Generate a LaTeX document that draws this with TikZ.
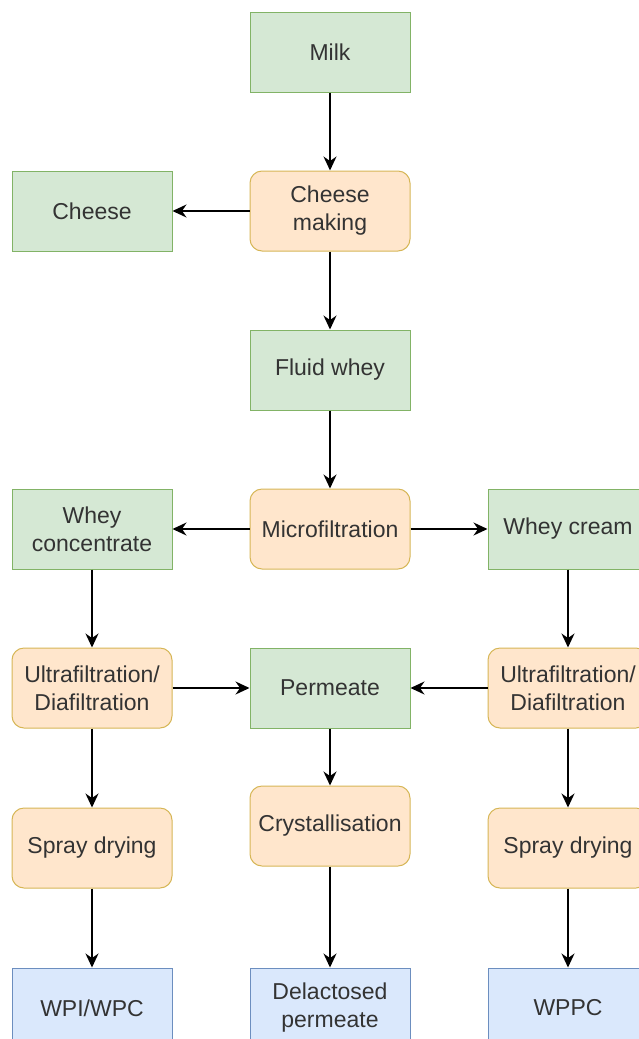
\documentclass[tikz,border=0pt]{standalone}
\usepackage{fontspec}
\setmainfont{Liberation Sans}
\usetikzlibrary{arrows.meta}
\definecolor{grnfill}{HTML}{D5E8D4}
\definecolor{grndraw}{HTML}{82B366}
\definecolor{orgfill}{HTML}{FFE6CC}
\definecolor{orgdraw}{HTML}{D6B656}
\definecolor{blufill}{HTML}{DAE8FC}
\definecolor{bludraw}{HTML}{6C8EBF}
\tikzset{
  boxnode/.style = {align=center, inner sep=0pt, text centered,
    minimum width=160pt, minimum height=80pt, line width=1pt,
    text=black!80, font=\fontsize{23}{28}\selectfont},
  grn_n/.style = {boxnode, rectangle, draw=grndraw, fill=grnfill},
  org_n/.style = {boxnode, rectangle, rounded corners=12pt, draw=orgdraw,
    fill=orgfill},
  blu_n/.style = {boxnode, rectangle, draw=bludraw, fill=blufill}}

\begin{document}
\begin{tikzpicture}[x=1pt,y=-1pt,->,>={Stealth[length=14pt,width=13pt]},
  line width=1.6pt]
\useasboundingbox (0,0) rectangle (638,1039);

% centre column
\node [grn_n] (milk)  at (330,52)  {Milk};
\node [org_n] (cmake) at (330,211) {Cheese\\making};
\node [grn_n] (cheese) at (92,211) {Cheese};
\node [grn_n] (fwhey) at (330,370) {Fluid whey};
\node [org_n] (micro) at (330,529) {Microfiltration};
\node [grn_n] (perm)  at (330,688) {Permeate};
\node [org_n] (cryst) at (330,826) {Crystallisation};
\node [blu_n] (delac) at (330,1008) {Delactosed\\permeate};

% left column
\node [grn_n] (wconc) at (92,529)  {Whey\\concentrate};
\node [org_n] (ufl)   at (92,688)  {Ultrafiltration/\\Diafiltration};
\node [org_n] (sprl)  at (92,848)  {Spray drying};
\node [blu_n] (wpi)   at (92,1008) {WPI/WPC};

% right column
\node [grn_n] (wcream) at (568,529)  {Whey cream};
\node [org_n] (ufr)    at (568,688)  {Ultrafiltration/\\Diafiltration};
\node [org_n] (sprr)   at (568,848)  {Spray drying};
\node [blu_n] (wppc)   at (568,1008) {WPPC};

\draw (milk) -- (cmake);
\draw (cmake) -- (cheese);
\draw (cmake) -- (fwhey);
\draw (fwhey) -- (micro);
\draw (micro) -- (wconc);
\draw (micro) -- (wcream);
\draw (wconc) -- (ufl);
\draw (wcream) -- (ufr);
\draw (ufl) -- (perm);
\draw (ufr) -- (perm);
\draw (perm) -- (cryst);
\draw (ufl) -- (sprl);
\draw (ufr) -- (sprr);
\draw (sprl) -- (wpi);
\draw (cryst) -- (delac);
\draw (sprr) -- (wppc);
\end{tikzpicture}
\end{document}
